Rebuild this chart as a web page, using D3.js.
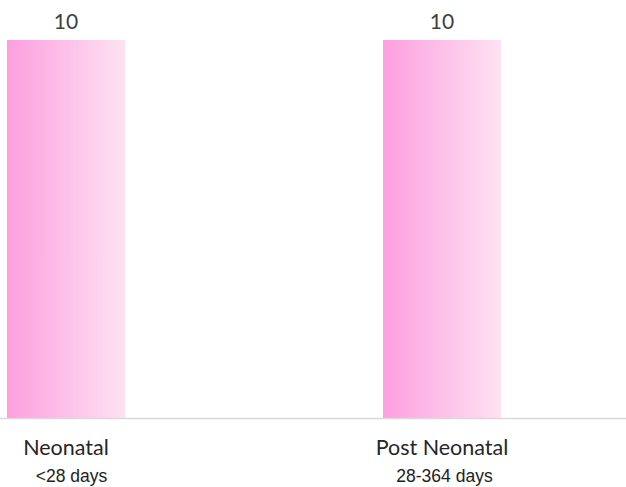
<!DOCTYPE html>
<html>
<head>
<meta charset="utf-8">
<script src="https://cdn.jsdelivr.net/npm/d3@7"></script>
<style>
  html, body { margin: 0; padding: 0; background: #fff; }
  svg { display: block; }
</style>
</head>
<body>
<div id="chart"></div>
<script>
// Infant deaths by age group
const categories = ["Neonatal", "Post Neonatal"];
const subLabels = ["<28 days", "28-364 days"];
const values = [10, 10];

const width = 626, height = 487;
const baseY = 418, topY = 40;

const svg = d3.select("#chart").append("svg")
  .attr("width", width)
  .attr("height", height);

const defs = svg.append("defs");
const grad = defs.append("linearGradient")
  .attr("id", "barFill")
  .attr("x1", "0%").attr("x2", "100%")
  .attr("y1", "0%").attr("y2", "0%");
grad.append("stop").attr("offset", "0%").attr("stop-color", "#fd9fdf");
grad.append("stop").attr("offset", "100%").attr("stop-color", "#fde2f2");

const x = d3.scaleBand()
  .domain(categories)
  .range([-181, 689])
  .paddingInner(0.686)
  .paddingOuter(0.5);

const y = d3.scaleLinear()
  .domain([0, 10])
  .range([baseY, topY]);

// bars
svg.selectAll("rect.bar")
  .data(categories)
  .join("rect")
  .attr("class", "bar")
  .attr("x", d => x(d))
  .attr("width", x.bandwidth())
  .attr("y", (d, i) => y(values[i]))
  .attr("height", (d, i) => y(0) - y(values[i]))
  .attr("fill", "url(#barFill)");

// baseline axis
const axis = d3.axisBottom(x).tickSize(0).tickFormat("");
svg.append("g")
  .attr("transform", `translate(0,${baseY})`)
  .call(axis)
  .call(g => g.select(".domain")
    .attr("d", `M0,0.5H${width}`)
    .attr("stroke", "#d9d9d9")
    .attr("stroke-width", 1.5));

// value labels
svg.selectAll("text.value")
  .data(categories)
  .join("text")
  .attr("class", "value")
  .attr("x", d => x(d) + x.bandwidth() / 2)
  .attr("y", (d, i) => y(values[i]) - 11)
  .attr("text-anchor", "middle")
  .attr("font-family", "Lato, 'Open Sans', sans-serif")
  .attr("font-size", 21)
  .attr("fill", "#404040")
  .text((d, i) => values[i]);

// category labels
svg.selectAll("text.cat")
  .data(categories)
  .join("text")
  .attr("class", "cat")
  .attr("x", d => x(d) + x.bandwidth() / 2)
  .attr("y", 455)
  .attr("text-anchor", "middle")
  .attr("font-family", "Lato, 'Open Sans', sans-serif")
  .attr("font-size", 21.5)
  .attr("fill", "#262626")
  .text(d => d);

svg.selectAll("text.sub")
  .data(categories)
  .join("text")
  .attr("class", "sub")
  .attr("x", d => x(d) + x.bandwidth() / 2 + (d === categories[0] ? 5.5 : 2.5))
  .attr("y", 482)
  .attr("text-anchor", "middle")
  .attr("font-family", "'Liberation Sans', Arial, sans-serif")
  .attr("font-size", 17.5)
  .attr("fill", "#222")
  .text((d, i) => subLabels[i]);
</script>
</body>
</html>
